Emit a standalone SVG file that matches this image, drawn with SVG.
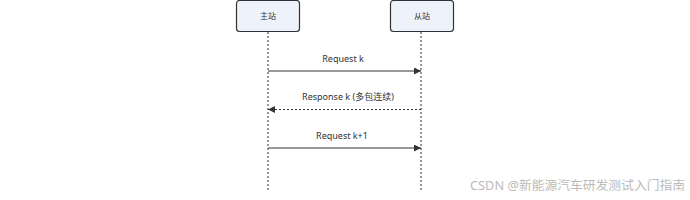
<svg xmlns="http://www.w3.org/2000/svg" width="690" height="200" viewBox="0 0 690 200">
<style>
.box{fill:#eef2fb;stroke:#333;stroke-width:1.2}
.life{stroke:#333;stroke-width:1;stroke-dasharray:2,2}
.msg{stroke:#333;stroke-width:1.2;fill:none}
.dot{stroke-dasharray:2,2}
text{font-family:"Noto Sans","Noto Sans CJK SC",sans-serif;fill:#333}
.lbl{font-size:9px;text-anchor:middle}
.nt{font-size:8px;text-anchor:middle}
.wm{font-size:12.5px;fill:#bbb}
</style>
<defs>
<marker id="ah" viewBox="0 0 10 10" refX="10" refY="5" markerWidth="7" markerHeight="7" orient="auto-start-reverse" markerUnits="userSpaceOnUse">
<path d="M0,0 L10,5 L0,10 z" fill="#333"/>
</marker>
</defs>
<g id="connectors">
<line class="life" x1="268" y1="32" x2="268" y2="190"/>
<line class="life" x1="421" y1="32" x2="421" y2="190"/>
<line class="msg" x1="268" y1="71" x2="421" y2="71" marker-end="url(#ah)"/>
<text class="lbl" x="343" y="62">Request k</text>
<line class="msg dot" x1="421" y1="109.5" x2="268" y2="109.5" marker-end="url(#ah)"/>
<text class="lbl" x="348" y="100">Response k (多包连续)</text>
<line class="msg" x1="268" y1="148" x2="421" y2="148" marker-end="url(#ah)"/>
<text class="lbl" x="342" y="139">Request k+1</text>
</g>
<g id="master">
<rect class="box" x="236.5" y="0.5" width="63" height="31" rx="3"/>
<text class="nt" x="268" y="19">主站</text>
</g>
<g id="slave">
<rect class="box" x="390.5" y="0.5" width="63" height="31" rx="3"/>
<text class="nt" x="422" y="19">从站</text>
</g>
<text class="wm" x="470" y="190" textLength="215" lengthAdjust="spacingAndGlyphs">CSDN @新能源汽车研发测试入门指南</text>
</svg>
